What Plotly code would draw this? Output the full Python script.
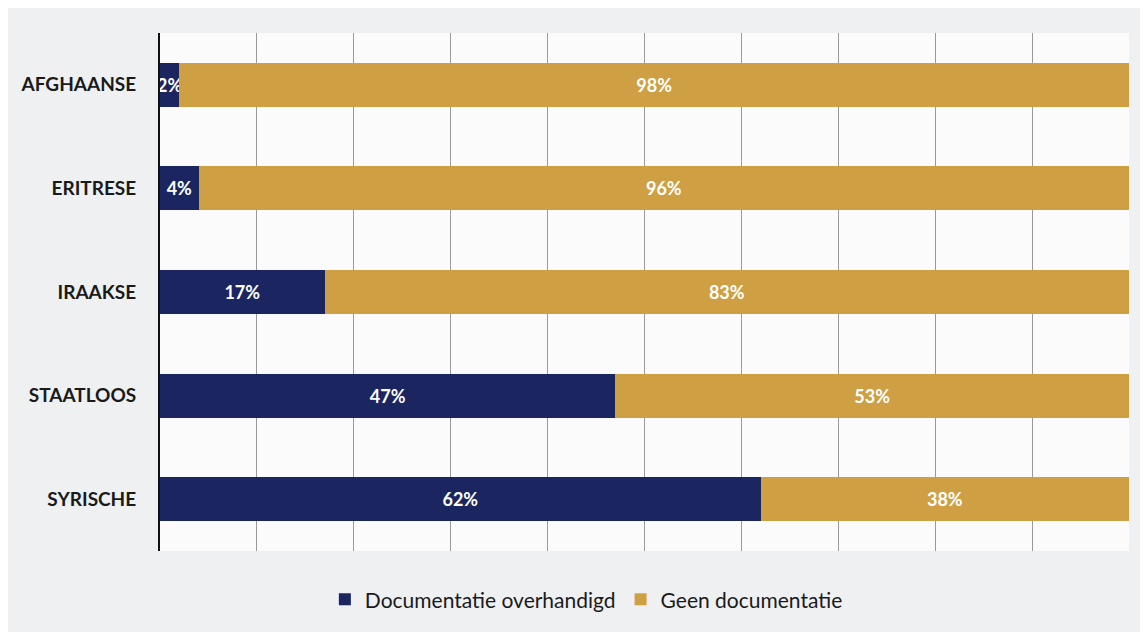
import plotly.graph_objects as go


# ====================================
# DATA
# ====================================

nationaliteiten = ["AFGHAANSE", "ERITRESE", "IRAAKSE", "STAATLOOS", "SYRISCHE"]
documentatie = [2, 4, 17, 47, 62]
geen_documentatie = [98, 96, 83, 53, 38]

NAVY = "#1b2560"
GOLD = "#cfa043"


# ====================================
# CHART
# ====================================

fig = go.Figure()

fig.add_trace(go.Bar(
    y=nationaliteiten,
    x=documentatie,
    orientation="h",
    name="Documentatie overhandigd",
    marker=dict(color=NAVY, line=dict(width=0)),
    text=[f"{v}%" for v in documentatie],
    textposition="inside",
    insidetextanchor="middle",
    textangle=0,
    constraintext="none",
    textfont=dict(family="Lato", size=18, color="white", weight="bold"),
))

fig.add_trace(go.Bar(
    y=nationaliteiten,
    x=geen_documentatie,
    orientation="h",
    name="Geen documentatie",
    marker=dict(color=GOLD, line=dict(width=0)),
    text=[f"{v}%" for v in geen_documentatie],
    textposition="inside",
    insidetextanchor="middle",
    textangle=0,
    constraintext="none",
    textfont=dict(family="Lato", size=18, color="white", weight="bold"),
))

fig.update_layout(
    barmode="stack",
    bargap=0.575,
    width=1140,
    height=624,
    margin=dict(l=152, r=19, t=25, b=79),
    paper_bgcolor="#eef0f2",
    plot_bgcolor="#fbfbfb",
    font=dict(family="Lato", size=18, color="#1a1a1a"),
    showlegend=True,
    legend=dict(
        orientation="h",
        x=0.44,
        xanchor="center",
        y=-0.094,
        yanchor="middle",
        font=dict(family="Lato", size=21, color="#1a1a1a"),
        bgcolor="rgba(0,0,0,0)",
        itemwidth=30,
        traceorder="normal",
    ),
    xaxis=dict(
        range=[0, 100],
        dtick=10,
        showgrid=True,
        gridcolor="#9a9a9a",
        gridwidth=1,
        showticklabels=False,
        zeroline=False,
        showline=False,
    ),
    yaxis=dict(
        autorange="reversed",
        showline=True,
        linecolor="#111111",
        linewidth=2,
        ticks="",
        ticklabelstandoff=18,
        tickfont=dict(family="Lato", size=19, color="#1a1a1a", weight="bold"),
        showgrid=False,
    ),
)

fig.write_html("out.html")
